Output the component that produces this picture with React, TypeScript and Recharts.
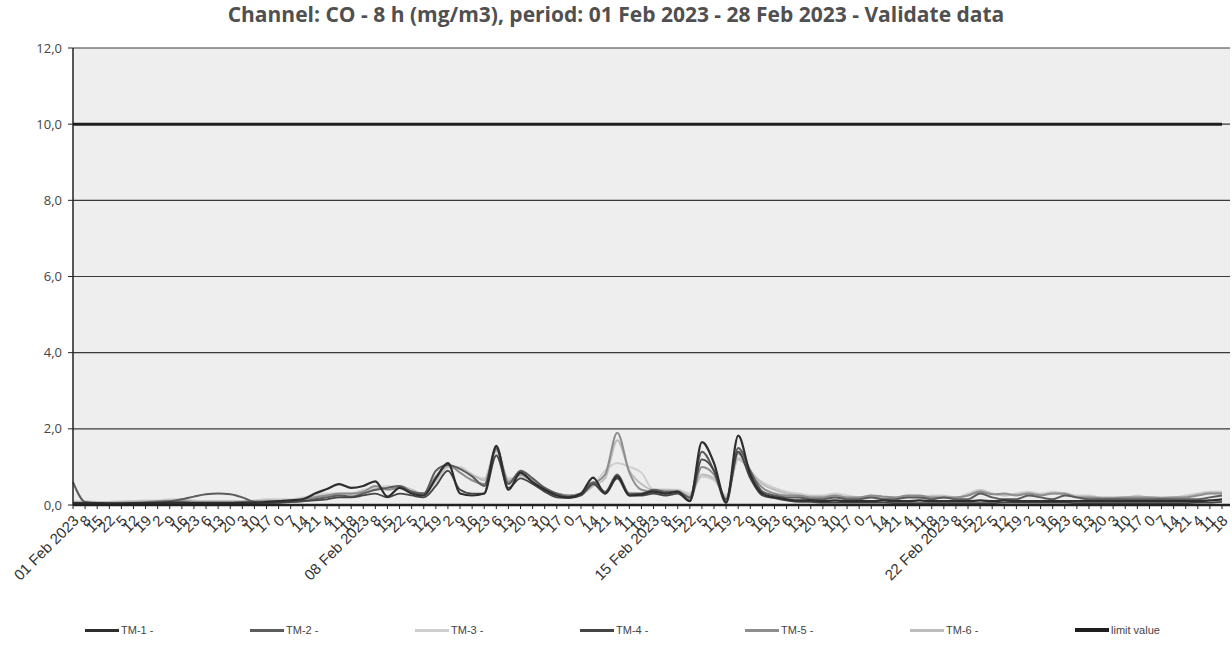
import { LineChart, Line, XAxis, YAxis, CartesianGrid } from "recharts";

const weekStarts = ["01 Feb 2023", "08 Feb 2023", "15 Feb 2023", "22 Feb 2023"];
const hourTicks = [
    "8", "15", "22", "5", "12", "19", "2", "9", "16", "23", "6", "13",
    "20", "3", "10", "17", "0", "7", "14", "21", "4", "11", "18",
];
const categories = weekStarts.flatMap((d) => [d, ...hourTicks]);

const yTicks = [0, 2, 4, 6, 8, 10, 12];
const limitValue = 10;

const tm1 = [
    0.05, 0.05, 0.05, 0.04, 0.04, 0.05, 0.05, 0.05, 0.06, 0.06,
    0.05, 0.05, 0.05, 0.05, 0.06, 0.06, 0.08, 0.1, 0.12, 0.15,
    0.3, 0.42, 0.55, 0.45, 0.5, 0.62, 0.22, 0.45, 0.3, 0.25,
    0.7, 1.1, 0.3, 0.25, 0.3, 1.55, 0.4, 0.85, 0.6, 0.4,
    0.25, 0.2, 0.3, 0.72, 0.3, 0.75, 0.25, 0.28, 0.35, 0.3,
    0.35, 0.1, 1.65, 1.1, 0.08, 1.82, 0.8, 0.3, 0.2, 0.15,
    0.12, 0.12, 0.1, 0.12, 0.1, 0.1, 0.1, 0.12, 0.1, 0.1,
    0.12, 0.1, 0.1, 0.1, 0.1, 0.12, 0.1, 0.12, 0.1, 0.1,
    0.1, 0.1, 0.1, 0.1, 0.1, 0.1, 0.1, 0.1, 0.1, 0.1,
    0.1, 0.1, 0.1, 0.1, 0.12, 0.15,
];
const tm2 = [
    0.6, 0.08, 0.05, 0.05, 0.05, 0.05, 0.06, 0.08, 0.1, 0.15,
    0.22, 0.28, 0.3, 0.28, 0.2, 0.08, 0.06, 0.06, 0.08, 0.1,
    0.15, 0.2, 0.25, 0.22, 0.3, 0.4, 0.45, 0.5, 0.35, 0.3,
    0.9, 1.05, 0.95, 0.75, 0.5, 1.5, 0.55, 0.9, 0.7, 0.45,
    0.3, 0.22, 0.3, 0.6, 0.35, 0.8, 0.3, 0.3, 0.4, 0.35,
    0.35, 0.2, 1.4, 0.9, 0.15, 1.5, 0.9, 0.35, 0.25, 0.2,
    0.2, 0.15, 0.15, 0.2, 0.15, 0.15, 0.2, 0.15, 0.15, 0.2,
    0.2, 0.15, 0.2, 0.15, 0.15, 0.3, 0.2, 0.15, 0.15, 0.25,
    0.2, 0.15, 0.25, 0.2, 0.15, 0.15, 0.15, 0.15, 0.15, 0.15,
    0.15, 0.15, 0.15, 0.15, 0.2, 0.25,
];
const tm3 = [
    0.1, 0.1, 0.08, 0.08, 0.1, 0.1, 0.12, 0.12, 0.15, 0.15,
    0.12, 0.1, 0.1, 0.1, 0.1, 0.12, 0.15, 0.15, 0.15, 0.2,
    0.25, 0.3, 0.3, 0.3, 0.4, 0.45, 0.5, 0.45, 0.35, 0.3,
    0.6, 1.0, 1.0, 0.8, 0.7, 1.4, 0.7, 0.75, 0.65, 0.45,
    0.3, 0.25, 0.3, 0.5, 0.9, 1.1, 1.0, 0.85, 0.4, 0.4,
    0.4, 0.3, 0.75, 0.65, 0.25, 1.25, 0.85, 0.6, 0.45, 0.35,
    0.3, 0.25, 0.25, 0.3, 0.25, 0.2, 0.25, 0.2, 0.2, 0.25,
    0.2, 0.25, 0.25, 0.2, 0.3, 0.4, 0.3, 0.25, 0.3, 0.35,
    0.3, 0.35, 0.3, 0.25, 0.25, 0.2, 0.2, 0.2, 0.25, 0.2,
    0.2, 0.2, 0.25, 0.3, 0.35, 0.35,
];
const tm4 = [
    0.03, 0.03, 0.03, 0.03, 0.03, 0.04, 0.04, 0.04, 0.05, 0.05,
    0.05, 0.05, 0.05, 0.05, 0.05, 0.05, 0.05, 0.06, 0.08, 0.1,
    0.12, 0.15, 0.2, 0.2, 0.25, 0.3, 0.2, 0.3, 0.25, 0.2,
    0.5, 0.9, 0.4, 0.3, 0.3, 1.3, 0.45, 0.7, 0.55, 0.35,
    0.2, 0.18, 0.25, 0.55, 0.3, 0.7, 0.25, 0.25, 0.3, 0.25,
    0.3, 0.1, 1.2, 0.9, 0.05, 1.4, 0.7, 0.25, 0.18, 0.12,
    0.08, 0.08, 0.06, 0.06, 0.06, 0.06, 0.06, 0.06, 0.05, 0.05,
    0.05, 0.05, 0.05, 0.05, 0.05, 0.05, 0.05, 0.06, 0.06, 0.06,
    0.06, 0.06, 0.06, 0.05, 0.05, 0.05, 0.05, 0.05, 0.05, 0.05,
    0.05, 0.05, 0.05, 0.06, 0.06, 0.08,
];
const tm5 = [
    0.06, 0.06, 0.05, 0.05, 0.06, 0.06, 0.08, 0.1, 0.1, 0.1,
    0.08, 0.08, 0.08, 0.08, 0.08, 0.1, 0.1, 0.1, 0.12, 0.15,
    0.2, 0.25, 0.3, 0.3, 0.35, 0.5, 0.4, 0.45, 0.35, 0.3,
    0.75, 1.05, 0.85, 0.65, 0.55, 1.45, 0.6, 0.8, 0.6, 0.4,
    0.3, 0.25, 0.3, 0.55, 0.8, 1.9, 0.85, 0.4, 0.35, 0.35,
    0.35, 0.15, 1.0, 0.8, 0.15, 1.35, 0.85, 0.45, 0.3, 0.25,
    0.25, 0.2, 0.2, 0.25, 0.2, 0.2, 0.25, 0.22, 0.2, 0.25,
    0.25, 0.2, 0.2, 0.2, 0.25, 0.35, 0.28, 0.3, 0.25, 0.3,
    0.25, 0.3, 0.3, 0.2, 0.2, 0.18, 0.18, 0.2, 0.2, 0.2,
    0.18, 0.2, 0.2, 0.25, 0.3, 0.3,
];
const tm6 = [
    0.08, 0.08, 0.08, 0.08, 0.08, 0.1, 0.1, 0.1, 0.12, 0.12,
    0.1, 0.1, 0.1, 0.1, 0.1, 0.1, 0.12, 0.12, 0.12, 0.18,
    0.22, 0.25, 0.28, 0.28, 0.35, 0.4, 0.45, 0.5, 0.4, 0.3,
    0.65, 1.0, 0.95, 0.8, 0.65, 1.5, 0.65, 0.8, 0.65, 0.45,
    0.3, 0.25, 0.28, 0.5, 0.7, 1.7, 0.9, 0.55, 0.4, 0.4,
    0.38, 0.25, 0.8, 0.7, 0.2, 1.2, 0.9, 0.55, 0.4, 0.3,
    0.25, 0.22, 0.22, 0.25, 0.2, 0.2, 0.22, 0.2, 0.2, 0.22,
    0.2, 0.22, 0.22, 0.2, 0.25, 0.38, 0.3, 0.25, 0.28, 0.3,
    0.28, 0.3, 0.28, 0.22, 0.22, 0.2, 0.2, 0.2, 0.22, 0.2,
    0.2, 0.2, 0.22, 0.28, 0.32, 0.32,
];

const series = [
    { key: "tm1", name: "TM-1 -", values: tm1, color: "#2e2e2e", width: 2.2 },
    { key: "tm2", name: "TM-2 -", values: tm2, color: "#5c5c5c", width: 2 },
    { key: "tm3", name: "TM-3 -", values: tm3, color: "#cfcfcf", width: 2 },
    { key: "tm4", name: "TM-4 -", values: tm4, color: "#454545", width: 1.8 },
    { key: "tm5", name: "TM-5 -", values: tm5, color: "#8e8e8e", width: 2 },
    { key: "tm6", name: "TM-6 -", values: tm6, color: "#bdbdbd", width: 2 },
];

const data = categories.map((t, i) => {
    const row: Record<string, string | number> = { t, limit: limitValue };
    series.forEach((s) => {
        row[s.key] = s.values[i];
    });
    return row;
});

// draw light lines first so the dark ones sit on top
const drawOrder = ["tm3", "tm6", "tm5", "tm2", "tm4", "tm1"];

const fmt = (v: number) => v.toFixed(1).replace(".", ",");

function XTick({ x, y, payload }: any) {
    return (
        <g transform={`translate(${x + 3},${y + 7})`}>
            <text
                x={0}
                y={0}
                dy="0.35em"
                textAnchor="end"
                transform="rotate(-45)"
                fill="#333"
                fontSize={15}
                fontFamily="Liberation Sans, Arial, sans-serif"
            >
                {payload.value}
            </text>
        </g>
    );
}

export default function App() {
    return (
        <div
            style={{
                position: "absolute",
                left: 0,
                top: 0,
                width: 1232,
                height: 648,
                background: "#fff",
                overflow: "hidden",
            }}
        >
            <div
                style={{
                    position: "absolute",
                    top: 0,
                    left: 0,
                    width: 1232,
                    textAlign: "center",
                    fontFamily: "Open Sans, sans-serif",
                    fontWeight: 700,
                    fontSize: 21,
                    color: "#505050",
                }}
            >
                Channel: CO - 8 h (mg/m3), period: 01 Feb 2023 - 28 Feb 2023 - Validate data
            </div>
            <div style={{ position: "absolute", left: 0, top: 0 }}>
                <LineChart
                    width={1232}
                    height={600}
                    data={data}
                    margin={{ top: 48, right: 2, bottom: 0, left: 0 }}
                >
                    <CartesianGrid
                        vertical={false}
                        stroke="#3a3a3a"
                        strokeWidth={1.2}
                        fill="#eeeeee"
                    />
                    <XAxis
                        dataKey="t"
                        interval={0}
                        height={95}
                        padding={{ left: 0, right: 8 }}
                        tick={<XTick />}
                        tickSize={4}
                        tickLine={{ stroke: "#222" }}
                        axisLine={{ stroke: "#222", strokeWidth: 2.5 }}
                    />
                    <YAxis
                        domain={[0, 12]}
                        ticks={yTicks}
                        width={73}
                        tickSize={5}
                        tickMargin={6}
                        tickFormatter={fmt}
                        tick={{ fill: "#444", fontSize: 13, fontFamily: "Open Sans, sans-serif" }}
                        tickLine={{ stroke: "#222" }}
                        axisLine={{ stroke: "#222", strokeWidth: 1.5 }}
                    />
                    {drawOrder.map((k) => {
                        const s = series.find((x) => x.key === k)!;
                        return (
                            <Line
                                key={s.key}
                                type="monotone"
                                dataKey={s.key}
                                stroke={s.color}
                                strokeWidth={s.width}
                                dot={false}
                                isAnimationActive={false}
                            />
                        );
                    })}
                    <Line
                        type="linear"
                        dataKey="limit"
                        stroke="#1e1e1e"
                        strokeWidth={3}
                        dot={false}
                        isAnimationActive={false}
                    />
                </LineChart>
            </div>
            <div
                style={{
                    position: "absolute",
                    top: 624,
                    left: 85,
                    display: "flex",
                    fontFamily: "Liberation Sans Narrow, Liberation Sans, Arial, sans-serif",
                    fontSize: 11,
                    color: "#444",
                }}
            >
                {[...series, { key: "limit", name: "limit value", color: "#1e1e1e", width: 4 }].map((s) => (
                    <div
                        key={s.key}
                        style={{ width: 165, display: "flex", alignItems: "center" }}
                    >
                        <span
                            style={{
                                display: "inline-block",
                                width: 34,
                                height: s.key === "limit" ? 4 : 3,
                                background: s.color,
                                marginRight: 2,
                            }}
                        />
                        {s.name}
                    </div>
                ))}
            </div>
        </div>
    );
}
